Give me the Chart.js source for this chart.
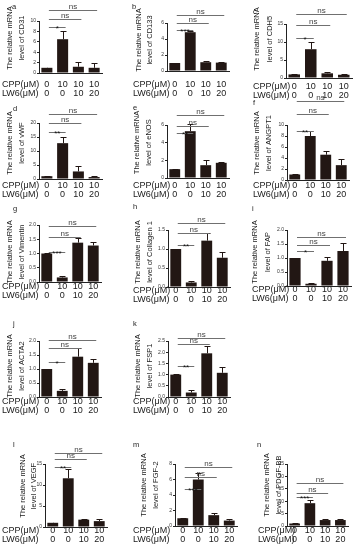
<!DOCTYPE html>
<html>
<head>
<meta charset="utf-8">
<script src="https://cdn.jsdelivr.net/npm/chart.js@4.4.0/dist/chart.umd.min.js"></script>
<style>
  html, body { margin: 0; padding: 0; background: #fff; overflow: hidden; }
  #wrap { position: relative; width: 361px; height: 550px; }
  #wrap canvas { position: absolute; left: 0; top: 0; }
</style>
</head>
<body>
<div id="wrap"></div>
<script>
const cppDose = [0, 10, 10, 10];
const lw6Dose = [0, 0, 10, 20];

// mean / error (upper SD) / y tick labels / significance vs. control, per gene
const cd31Mean = [1.0, 6.5, 1.2, 1.0];
const cd31Err = [0.05, 1.6, 0.9, 0.9];
const cd31Ticks = ["0", "2", "4", "6", "8", "10"];
const cd31Sig = ["*", "ns", "ns"];

const cd133Mean = [1.0, 4.85, 1.1, 1.05];
const cd133Err = [0.03, 0.12, 0.15, 0.08];
const cd133Ticks = ["0", "2", "4", "6"];
const cd133Sig = ["***", "ns", "ns"];

const cdh5Mean = [1.0, 8.0, 1.3, 0.9];
const cdh5Err = [0.05, 2.1, 0.5, 0.25];
const cdh5Ticks = ["0", "5", "10", "15"];
const cdh5Sig = ["*", "ns", "ns"];

const vwfMean = [1.0, 12.8, 2.7, 0.7];
const vwfErr = [0.05, 2.2, 2.0, 0.5];
const vwfTicks = ["0", "5", "10", "15", "20"];
const vwfSig = ["**", "ns", "ns"];

const enosMean = [1.0, 5.3, 1.45, 1.72];
const enosErr = [0.03, 0.8, 0.55, 0.07];
const enosTicks = ["0", "2", "4", "6"];
const enosSig = ["**", "ns", "ns"];

const angpt1Mean = [1.0, 8.0, 4.6, 2.7];
const angpt1Err = [0.03, 0.9, 0.6, 1.1];
const angpt1Ticks = ["0", "2", "4", "6", "8", "10"];
const angpt1Sig = ["**", "ns", "ns"];

const vimMean = [1.0, 0.16, 1.38, 1.28];
const vimErr = [0.01, 0.04, 0.17, 0.11];
const vimTicks = ["0.0", "0.5", "1.0", "1.5", "2.0"];
const vimSig = ["***", "ns", "ns"];

const col1Mean = [1.0, 0.12, 1.22, 0.77];
const col1Err = [0.01, 0.05, 0.19, 0.14];
const col1Ticks = ["0.0", "0.5", "1.0", "1.5"];
const col1Sig = ["**", "ns", "ns"];

const fapMean = [1.0, 0.08, 0.9, 1.25];
const fapErr = [0.01, 0.03, 0.15, 0.3];
const fapTicks = ["0.0", "0.5", "1.0", "1.5", "2.0"];
const fapSig = ["*", "ns", "ns"];

const acta2Mean = [1.0, 0.22, 1.44, 1.22];
const acta2Err = [0.01, 0.06, 0.3, 0.15];
const acta2Ticks = ["0.0", "0.5", "1.0", "1.5", "2.0"];
const acta2Sig = ["*", "ns", "ns"];

const fsp1Mean = [1.0, 0.2, 1.95, 1.08];
const fsp1Err = [0.01, 0.1, 0.32, 0.25];
const fsp1Ticks = ["0.0", "0.5", "1.0", "1.5", "2.0", "2.5"];
const fsp1Sig = ["**", "ns", "ns"];

const vegfMean = [1.0, 11.6, 1.75, 1.4];
const vegfErr = [0.03, 2.2, 0.25, 0.55];
const vegfTicks = ["0", "5", "10", "15"];
const vegfSig = ["**", "ns", "ns"];

const fgf2Mean = [1.0, 6.0, 1.4, 0.7];
const fgf2Err = [0.03, 0.8, 0.22, 0.25];
const fgf2Ticks = ["0", "2", "4", "6", "8"];
const fgf2Sig = ["***", "ns", "ns"];

const pdgfMean = [1.0, 9.2, 2.4, 2.4];
const pdgfErr = [0.05, 1.4, 0.6, 0.6];
const pdgfTicks = ["0", "5", "10", "15", "20", "25"];
const pdgfSig = ["***", "ns", "ns"];

const panels = [
  { id: "a", gene: "CD31", mean: cd31Mean, err: cd31Err, ticks: cd31Ticks, sig: cd31Sig },
  { id: "b", gene: "CD133", mean: cd133Mean, err: cd133Err, ticks: cd133Ticks, sig: cd133Sig },
  { id: "c", gene: "CDH5", mean: cdh5Mean, err: cdh5Err, ticks: cdh5Ticks, sig: cdh5Sig },
  { id: "d", gene: "vWF", mean: vwfMean, err: vwfErr, ticks: vwfTicks, sig: vwfSig },
  { id: "e", gene: "eNOS", mean: enosMean, err: enosErr, ticks: enosTicks, sig: enosSig },
  { id: "f", gene: "ANGPT1", mean: angpt1Mean, err: angpt1Err, ticks: angpt1Ticks, sig: angpt1Sig },
  { id: "g", gene: "Vimentin", mean: vimMean, err: vimErr, ticks: vimTicks, sig: vimSig },
  { id: "h", gene: "Collagen 1", mean: col1Mean, err: col1Err, ticks: col1Ticks, sig: col1Sig },
  { id: "i", gene: "FAP", mean: fapMean, err: fapErr, ticks: fapTicks, sig: fapSig },
  { id: "j", gene: "ACTA2", mean: acta2Mean, err: acta2Err, ticks: acta2Ticks, sig: acta2Sig },
  { id: "k", gene: "FSP1", mean: fsp1Mean, err: fsp1Err, ticks: fsp1Ticks, sig: fsp1Sig },
  { id: "l", gene: "VEGF", mean: vegfMean, err: vegfErr, ticks: vegfTicks, sig: vegfSig },
  { id: "m", gene: "FGF-2", mean: fgf2Mean, err: fgf2Err, ticks: fgf2Ticks, sig: fgf2Sig },
  { id: "n", gene: "PDGF-BB", mean: pdgfMean, err: pdgfErr, ticks: pdgfTicks, sig: pdgfSig },
];

// page layout of each small panel (pixels in the 361x550 page)
// ax: y axis x, w: plot width, top/bot: plot box, cpp: centre of first x label row,
// lx: left of row captions, t1/t2/ty: y-title lines, br: bracket heights, lt: panel letter
const layout = {
  a: { ax: 39, w: 63, top: 21, bot: 73, cpp: 85, lx: 2, t1: 9.5, t2: 21.5, ty: 38, br: [27, 19, 10], lt: [12, 7] },
  b: { ax: 167, w: 62, top: 23, bot: 71, cpp: 85, lx: 133, t1: 138.5, t2: 150, ty: 40, br: [30, 23, 15], lt: [132, 7] },
  c: { ax: 286, w: 66, top: 24, bot: 78, cpp: 87, lx: 253, t1: 257, t2: 270, ty: 39, br: [38, 25, 14], lt: [253, 12] },
  d: { ax: 39, w: 63, top: 123, bot: 179, cpp: 186, lx: 2, t1: 9.5, t2: 21.5, ty: 143, br: [132, 123, 114], lt: [13, 109] },
  e: { ax: 167, w: 62, top: 125, bot: 178, cpp: 186, lx: 133, t1: 137, t2: 149, ty: 142.5, br: [133, 126, 115], lt: [133, 108] },
  f: { ax: 287, w: 62, top: 125, bot: 180, cpp: 186, lx: 253, t1: 257, t2: 269, ty: 143, br: [131, 114, 101], lt: [253, 103] },
  g: { ax: 39, w: 62, top: 225, bot: 282, cpp: 287, lx: 2, t1: 10, t2: 21.5, ty: 252, br: [252, 237, 226], lt: [13, 209] },
  h: { ax: 168, w: 62, top: 230, bot: 287, cpp: 291, lx: 133, t1: 138, t2: 150, ty: 252, br: [245, 233, 223], lt: [133, 207] },
  i: { ax: 287, w: 64, top: 230, bot: 286, cpp: 290, lx: 252, t1: 255, t2: 268, ty: 252, br: [251, 245, 237], lt: [252, 209] },
  j: { ax: 39, w: 62, top: 341, bot: 397, cpp: 402, lx: 2, t1: 10, t2: 21.5, ty: 366, br: [362, 348, 340], lt: [13, 324] },
  k: { ax: 168, w: 62, top: 341, bot: 397, cpp: 402, lx: 133, t1: 138, t2: 150, ty: 366, br: [366, 344, 338], lt: [133, 324] },
  l: { ax: 45, w: 62, top: 464, bot: 527, cpp: 531, lx: 2, t1: 22.5, t2: 34, ty: 486, br: [467, 459, 453], lt: [13, 445] },
  m: { ax: 175, w: 62, top: 464, bot: 526, cpp: 531, lx: 133, t1: 144, t2: 156, ty: 485, br: [489, 477, 467], lt: [133, 445] },
  n: { ax: 287, w: 61, top: 464, bot: 526, cpp: 531, lx: 258, t1: 267, t2: 279, ty: 485, br: [497, 493, 483], lt: [257, 445] },
};

const W = 361, H = 550;
const FONT = "'Liberation Sans', Arial, sans-serif";
const barColor = "#221714";
const yW = 11, labelSize = 9, rowGap = 8.5;

const xLabels = cppDose.map((c, i) => [String(c), String(lw6Dose[i])]);

const decor = {
  id: "decor",
  afterDatasetsDraw(chart, args, o) {
    const { ctx } = chart;
    const x = chart.scales.x, y = chart.scales.y;
    const L = o.L;
    ctx.save();

    // error bars (upper only)
    ctx.strokeStyle = barColor;
    ctx.lineWidth = 1;
    o.err.forEach((e, i) => {
      const cx = Math.round(x.getPixelForValue(i)) + 0.5;
      const y0 = y.getPixelForValue(o.mean[i]);
      const y1 = Math.round(y.getPixelForValue(o.mean[i] + e)) + 0.5;
      ctx.beginPath();
      ctx.moveTo(cx, y0);
      ctx.lineTo(cx, y1);
      ctx.moveTo(cx - 3, y1);
      ctx.lineTo(cx + 3, y1);
      ctx.stroke();
    });

    // significance brackets vs. first bar
    o.sig.forEach((s, k) => {
      const x1 = x.getPixelForValue(0) + 2;
      const x2 = x.getPixelForValue(k + 1) + 3;
      const yy = L.br[k] + 0.5;
      ctx.strokeStyle = "#707070";
      ctx.beginPath();
      ctx.moveTo(x1, yy);
      ctx.lineTo(x2, yy);
      ctx.stroke();
      ctx.textAlign = "center";
      ctx.textBaseline = "alphabetic";
      ctx.font = "8px " + FONT;
      if (s === "ns") {
        ctx.fillStyle = "#444";
        ctx.fillText(s, (x1 + x2) / 2, yy - 1.5);
      } else {
        ctx.fillStyle = "#111";
        ctx.fillText(s, (x1 + x2) / 2, yy + 3.5);
      }
    });

    // y title (two lines, rotated)
    ctx.fillStyle = "#1a1a1a";
    ctx.font = "7.5px " + FONT;
    ctx.textAlign = "center";
    ctx.textBaseline = "middle";
    [["The relative mRNA", L.t1], ["level of " + o.gene, L.t2]].forEach(([t, tx]) => {
      ctx.save();
      ctx.translate(tx, L.ty);
      ctx.rotate(-Math.PI / 2);
      ctx.fillText(t, 0, 0);
      ctx.restore();
    });

    // row captions for the dose labels
    ctx.font = labelSize + "px " + FONT;
    ctx.textAlign = "left";
    ctx.fillText("CPP(\u03bcM)", L.lx, L.cpp);
    ctx.fillText("LW6(\u03bcM)", L.lx, L.cpp + rowGap);

    // panel letter
    ctx.font = "7.5px " + FONT;
    ctx.fillStyle = "#222";
    ctx.fillText(o.id, L.lt[0], L.lt[1]);
    ctx.restore();
  },
};

const wrap = document.getElementById("wrap");

panels.forEach((p) => {
  const L = layout[p.id];
  const xH = L.cpp - L.bot + rowGap + 8; // room for both label rows (labels clip to the scale box)
  const cv = document.createElement("canvas");
  cv.width = W;
  cv.height = H;
  wrap.appendChild(cv);
  const tickVals = p.ticks.map(Number);

  new Chart(cv.getContext("2d"), {
    type: "bar",
    data: {
      labels: xLabels,
      datasets: [{
        data: p.mean,
        backgroundColor: barColor,
        barPercentage: 0.7,
        categoryPercentage: 1,
      }],
    },
    options: {
      responsive: false,
      animation: false,
      events: [],
      layout: {
        padding: {
          left: L.ax - yW,
          top: L.top,
          right: W - L.ax - L.w,
          bottom: Math.max(0, H - L.bot - xH),
        },
      },
      plugins: {
        legend: { display: false },
        tooltip: { enabled: false },
        decor: { L: L, mean: p.mean, err: p.err, sig: p.sig, gene: p.gene, id: p.id },
      },
      scales: {
        x: {
          afterFit: (s) => { s.height = Math.min(xH, H - L.bot); },
          grid: { display: false, drawTicks: false },
          border: { color: "#222", width: 1 },
          ticks: {
            color: "#1a1a1a",
            font: { family: FONT, size: labelSize, lineHeight: rowGap / labelSize },
            padding: L.cpp - L.bot - rowGap / 2,
            maxRotation: 0,
            autoSkip: false,
          },
        },
        y: {
          min: 0,
          max: tickVals[tickVals.length - 1],
          afterFit: (s) => { s.width = yW; },
          afterBuildTicks: (s) => { s.ticks = tickVals.map((v) => ({ value: v })); },
          grid: { drawOnChartArea: false, drawTicks: true, tickLength: 2, color: "#222" },
          border: { color: "#222", width: 1 },
          ticks: {
            color: "#333",
            font: { family: FONT, size: 5 },
            padding: 1,
            callback: (v, i) => p.ticks[i],
          },
        },
      },
    },
    plugins: [decor],
  });
});
</script>
</body>
</html>
